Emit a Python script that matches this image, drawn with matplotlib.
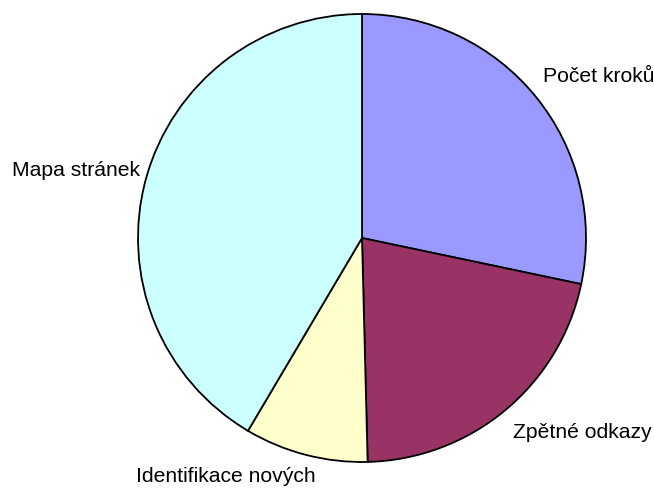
import matplotlib
matplotlib.use("Agg")
import matplotlib.pyplot as plt

labels = ["Počet kroků", "Zpětné odkazy", "Identifikace nových", "Mapa stránek"]
values = [28.3, 21.3, 8.9, 41.5]
colors = ["#9999FF", "#993366", "#FFFFCC", "#CCFFFF"]

W, H = 654, 490
fig = plt.figure(figsize=(W / 100, H / 100), dpi=100)
ax = fig.add_axes([0, 0, 1, 1])

cx, cy, r = 362, H - 238, 224
ax.pie(values, colors=colors, startangle=90, counterclock=False,
       center=(cx, cy), radius=r, frame=True,
       wedgeprops=dict(edgecolor="black", linewidth=1.3))
ax.set_xlim(0, W)
ax.set_ylim(0, H)
ax.axis("off")

label_pos = [(543, H - 77, "left"), (513, H - 432, "left"),
             (136, H - 476, "left"), (12, H - 170, "left")]
for lab, (x, y, ha) in zip(labels, label_pos):
    ax.text(x, y, lab, ha=ha, va="center", fontsize=15.2,
            family="Liberation Sans", color="black")

fig.savefig("out.png", dpi=100)
